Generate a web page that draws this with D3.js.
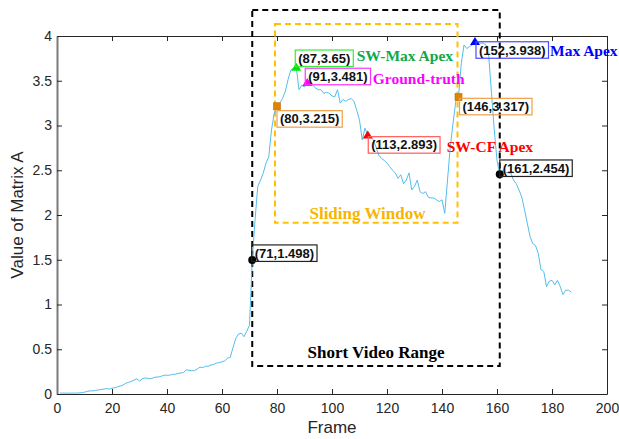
<!DOCTYPE html>
<html>
<head>
<meta charset="utf-8">
<script src="https://cdn.jsdelivr.net/npm/d3@7"></script>
<style>
  html, body { margin: 0; padding: 0; background: #fff; }
  svg { display: block; }
</style>
</head>
<body>
<svg id="chart" width="619" height="439"></svg>
<script>
// ---------------- DATA ----------------
const firstFrame = 1;
const matrixValues = [
  0.01, 0.01, 0.01, 0.01, 0.01, 0.01, 0.01, 0.012, 0.015, 0.02,
  0.03, 0.035, 0.035, 0.04, 0.045, 0.05, 0.055, 0.06, 0.055, 0.065,
  0.07, 0.08, 0.09, 0.10, 0.12, 0.13, 0.14, 0.155, 0.17, 0.145,
  0.17, 0.18, 0.175, 0.17, 0.18, 0.19, 0.19, 0.20, 0.21, 0.21,
  0.21, 0.22, 0.22, 0.23, 0.235, 0.24, 0.27, 0.265, 0.26, 0.26,
  0.28, 0.30, 0.295, 0.31, 0.31, 0.325, 0.33, 0.345, 0.35, 0.36,
  0.37, 0.40, 0.41, 0.52, 0.62, 0.67, 0.68, 0.64, 0.70, 0.77,
  1.498, 1.94, 2.32, 2.39, 2.47, 2.58, 2.65, 2.95, 3.14, 3.215,
  3.25, 3.30, 3.38, 3.51, 3.62, 3.64, 3.65, 3.40, 3.45, 3.43,
  3.481, 3.47, 3.45, 3.42, 3.40, 3.40, 3.36, 3.37, 3.36, 3.33,
  3.32, 3.40, 3.25, 3.29, 3.27, 3.29, 3.30, 3.27, 3.17, 3.06,
  2.84, 2.97, 2.893, 2.875, 2.84, 2.76, 2.67, 2.63, 2.61, 2.58,
  2.54, 2.50, 2.47, 2.41, 2.45, 2.35, 2.39, 2.47, 2.28, 2.32,
  2.39, 2.26, 2.24, 2.26, 2.20, 2.19, 2.19, 2.17, 2.15, 2.17,
  2.02, 2.39, 2.76, 3.02, 3.27, 3.317, 3.69, 3.90, 3.86, 3.88,
  3.90, 3.938, 3.93, 3.92, 3.92, 3.90, 3.77, 3.36, 2.95, 2.61,
  2.454, 2.50, 2.48, 2.47, 2.47, 2.39, 2.35, 2.28, 2.20, 2.06,
  1.91, 1.76, 1.68, 1.66, 1.57, 1.39, 1.37, 1.20, 1.26, 1.27,
  1.22, 1.27, 1.20, 1.11, 1.16, 1.16, 1.14
];

const xTicks = [0, 20, 40, 60, 80, 100, 120, 140, 160, 180, 200];
const yTicks = [0, 0.5, 1, 1.5, 2, 2.5, 3, 3.5, 4];
const xDomain = [0, 200];
const yDomain = [0, 4];
const xTitle = "Frame";
const yTitle = "Value of Matrix A";

// annotated points
const annFrames = [87, 91, 80, 113, 146, 152, 161, 71];
const annValues = [3.65, 3.481, 3.215, 2.893, 3.317, 3.938, 2.454, 1.498];
const annNames  = ["SW-Max Apex", "Ground-truth", "", "SW-CF Apex", "", "Max Apex", "", ""];

// ranges
const shortVideoFrames = [71, 161];
const slidingWindowFrames = [80, 146];
const shortVideoLabel = "Short Video Range";
const slidingWindowLabel = "Sliding Window";

// ---------------- STYLE / LAYOUT ----------------
const annStyle = [
  { shape: "tri",  fill: "#00E600", box: "#33EE33", bx: -1,  by: -17.3, label: "#12A84A", lx: 60.5, ly: -6.3 },
  { shape: "tri",  fill: "#FF00FF", box: "#FF33FF", bx: -2,  by: -14.2, label: "#FF00FF", lx: 65.5, ly: 1.5 },
  { shape: "sq",   fill: "#DF8300", box: "#F0A048", bx: 0,   by: 4.4 },
  { shape: "tri",  fill: "#FF0000", box: "#FF5A5A", bx: 0.5, by: 1.6,   label: "#FF0000", lx: 79,   ly: 17 },
  { shape: "sq",   fill: "#DF8300", box: "#F0A048", bx: 1,   by: 1.2 },
  { shape: "tri",  fill: "#0000FF", box: "#4A4AFF", bx: 1,   by: 0.2,   label: "#0000FF", lx: 75,   ly: 14.5 },
  { shape: "dot",  fill: "#000000", box: "#222222", bx: 0,   by: -14.4 },
  { shape: "dot",  fill: "#000000", box: "#222222", bx: -0.5,by: -15 }
];

const margin = { left: 57, right: 12, top: 36, bottom: 45 };
const W = 619, H = 439;
const svg = d3.select("#chart");

const x = d3.scaleLinear().domain(xDomain).range([margin.left, W - margin.right]);
const y = d3.scaleLinear().domain(yDomain).range([H - margin.bottom, margin.top]);

const axisColor = "#262626";
const tickFont = "Arial, 'Liberation Sans', sans-serif";

// ---------------- AXES ----------------
const gx = svg.append("g").attr("transform", `translate(0,${y(0)})`)
  .call(d3.axisBottom(x).tickValues(xTicks).tickSizeInner(-5).tickSizeOuter(0).tickPadding(9));
const gxt = svg.append("g").attr("transform", `translate(0,${y(4)})`)
  .call(d3.axisTop(x).tickValues(xTicks).tickSizeInner(-5).tickSizeOuter(0).tickFormat(""));
const gy = svg.append("g").attr("transform", `translate(${x(0)},0)`)
  .call(d3.axisLeft(y).tickValues(yTicks).tickSizeInner(-5).tickSizeOuter(0).tickPadding(5).tickFormat(d3.format("")));
const gyr = svg.append("g").attr("transform", `translate(${x(200)},0)`)
  .call(d3.axisRight(y).tickValues(yTicks).tickSizeInner(-5).tickSizeOuter(0).tickFormat(""));

[gx, gxt, gy, gyr].forEach(g => {
  g.selectAll("path.domain").attr("stroke", axisColor).attr("stroke-width", 1);
  g.selectAll(".tick line").attr("stroke", axisColor);
  g.selectAll("text").attr("fill", axisColor).style("font-family", tickFont).style("font-size", "14px");
});
gy.select("path.domain").attr("stroke", "#7a7a7a").attr("stroke-width", 2);

// axis titles
svg.append("text").attr("x", (x(0) + x(200)) / 2).attr("y", 433)
  .attr("text-anchor", "middle").attr("fill", axisColor)
  .style("font-family", tickFont).style("font-size", "17px").text(xTitle);
svg.append("text").attr("transform", `translate(23,${(y(0) + y(4)) / 2}) rotate(-90)`)
  .attr("text-anchor", "middle").attr("fill", axisColor)
  .style("font-family", tickFont).style("font-size", "17px").text(yTitle);

// ---------------- RANGE BOXES ----------------
const serif = "'Liberation Serif', 'Times New Roman', serif";

// Short video range (black dashed)
svg.append("rect")
  .attr("x", x(shortVideoFrames[0]))
  .attr("y", y(4.29))
  .attr("width", x(shortVideoFrames[1]) - x(shortVideoFrames[0]))
  .attr("height", y(0.313) - y(4.29))
  .attr("fill", "none").attr("stroke", "#000").attr("stroke-width", 2)
  .attr("stroke-dasharray", "6,4");
svg.append("text")
  .attr("x", (x(shortVideoFrames[0]) + x(shortVideoFrames[1])) / 2)
  .attr("y", 357.5).attr("text-anchor", "middle")
  .style("font-family", serif).style("font-weight", "bold").style("font-size", "17px")
  .attr("fill", "#000").text(shortVideoLabel);

// Sliding window (orange dashed)
svg.append("rect")
  .attr("x", x(slidingWindowFrames[0]) - 2)
  .attr("y", y(4.134))
  .attr("width", x(slidingWindowFrames[1]) - 1 - (x(slidingWindowFrames[0]) - 2))
  .attr("height", y(1.914) - y(4.134))
  .attr("fill", "none").attr("stroke", "#FFC000").attr("stroke-width", 2)
  .attr("stroke-dasharray", "6,4");
svg.append("text")
  .attr("x", 367.5).attr("y", 218.5).attr("text-anchor", "middle")
  .style("font-family", serif).style("font-weight", "bold").style("font-size", "17px")
  .attr("fill", "#F7B500").text(slidingWindowLabel);

// ---------------- CURVE ----------------
const series = matrixValues.map((v, i) => ({ f: firstFrame + i, v }));
svg.append("path").datum(series)
  .attr("fill", "none").attr("stroke", "#55BDEB").attr("stroke-width", 1)
  .attr("d", d3.line().x(d => x(d.f)).y(d => y(d.v)));

// ---------------- ANNOTATIONS ----------------
const fmt = v => String(v);
annFrames.forEach((f, i) => {
  const v = annValues[i], st = annStyle[i];
  const mx = x(f), my = y(v);
  // marker
  if (st.shape === "tri") {
    svg.append("path")
      .attr("d", `M${mx},${my - 4.5} L${mx + 5},${my + 3.5} L${mx - 5},${my + 3.5} Z`)
      .attr("fill", st.fill);
  } else if (st.shape === "sq") {
    svg.append("rect").attr("x", mx - 3.5).attr("y", my - 3.5).attr("width", 7).attr("height", 7)
      .attr("fill", st.fill).attr("stroke", "#C06A00").attr("stroke-width", 0.6);
  } else {
    svg.append("circle").attr("cx", mx).attr("cy", my).attr("r", 4).attr("fill", st.fill);
  }
  // box with coordinates
  const bx = mx + st.bx, by = my + st.by;
  const t = svg.append("text")
    .attr("x", bx + 3).attr("y", by + 12.8)
    .style("font-family", tickFont).style("font-size", "13px").style("font-weight", "bold")
    .attr("fill", "#111")
    .text(`(${f},${fmt(v)})`);
  const tw = t.node().getComputedTextLength();
  svg.insert("rect", () => t.node())
    .attr("x", bx).attr("y", by).attr("width", tw + 6).attr("height", 16.5)
    .attr("fill", "none").attr("stroke", st.box).attr("stroke-width", 1.2);
  // name label
  if (annNames[i]) {
    svg.append("text").attr("x", mx + st.lx).attr("y", my + st.ly)
      .style("font-family", serif).style("font-weight", "bold").style("font-size", "15.5px")
      .attr("fill", st.label).text(annNames[i]);
  }
});
</script>
</body>
</html>
